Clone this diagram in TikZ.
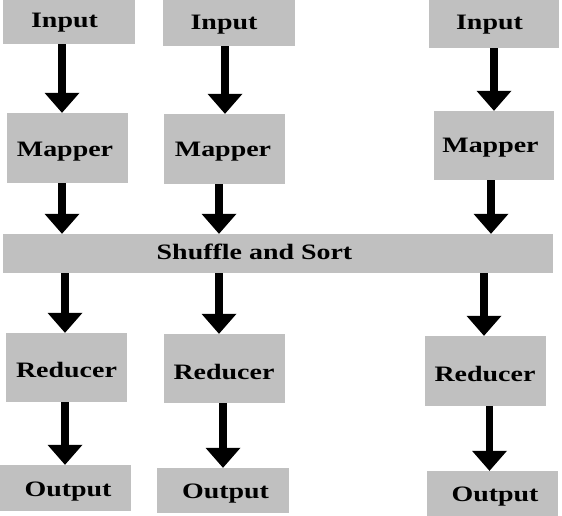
\documentclass[tikz,border=0pt]{standalone}
\usepackage{fontspec}
\setmainfont{Liberation Serif}
\usetikzlibrary{arrows.meta}
\newcommand\stretchtxt[1]{\scalebox{1.27}[1]{#1}}
\begin{document}
\begin{tikzpicture}[x=1pt,y=-1pt,
  box/.style={fill=boxgray, draw=none, inner sep=0pt, rectangle},
  lbl/.style={inner sep=0pt, text height=14.6pt, text depth=0pt,
              font=\fontsize{22}{22}\selectfont\bfseries},
  arr/.style={draw=black, line width=7.5pt,
              -{Triangle[width=35pt,length=20pt,line width=0pt]}}]
\definecolor{boxgray}{RGB}{192,192,192}
\useasboundingbox (0,0) rectangle (562,516);
% boxes
\node[box,minimum width=132pt,minimum height=44pt] (in1) at (69,22) {};
\node[box,minimum width=121pt,minimum height=70pt] (map1) at (67.5,148) {};
\node[box,minimum width=132pt,minimum height=46pt] (in2) at (229,23) {};
\node[box,minimum width=121pt,minimum height=70pt] (map2) at (224.5,149) {};
\node[box,minimum width=130pt,minimum height=48pt] (in3) at (494,24) {};
\node[box,minimum width=120pt,minimum height=69pt] (map3) at (494,145.5) {};
\node[box,minimum width=550pt,minimum height=39pt] (shuf) at (278,253.5) {};
\node[box,minimum width=121pt,minimum height=69pt] (red1) at (66.5,367.5) {};
\node[box,minimum width=121pt,minimum height=69pt] (red2) at (224.5,368.5) {};
\node[box,minimum width=121pt,minimum height=70pt] (red3) at (485.5,371) {};
\node[box,minimum width=131pt,minimum height=46pt] (out1) at (65.5,488) {};
\node[box,minimum width=132pt,minimum height=45pt] (out2) at (223,490.5) {};
\node[box,minimum width=131pt,minimum height=45pt] (out3) at (492.5,493.5) {};
% labels
\node[lbl] (in1t) at (64.5,20.7) {\stretchtxt{Input}};
\node[lbl] (map1t) at (65,149) {\stretchtxt{Mapper}};
\node[lbl] (in2t) at (224,22) {\stretchtxt{Input}};
\node[lbl] (map2t) at (223,149.5) {\stretchtxt{Mapper}};
\node[lbl] (in3t) at (489.5,22.5) {\stretchtxt{Input}};
\node[lbl] (map3t) at (490.5,145.5) {\stretchtxt{Mapper}};
\node[lbl] (shuft) at (254.5,252.5) {\stretchtxt{Shuffle and Sort}};
\node[lbl] (red1t) at (66.5,370.5) {\stretchtxt{Reducer}};
\node[lbl] (red2t) at (224,372.5) {\stretchtxt{Reducer}};
\node[lbl] (red3t) at (485,374) {\stretchtxt{Reducer}};
\node[lbl] (out1t) at (68,489) {\stretchtxt{Output}};
\node[lbl] (out2t) at (225.5,491) {\stretchtxt{Output}};
\node[lbl] (out3t) at (495,494) {\stretchtxt{Output}};
% arrows
\draw[arr] (in1.south -| 62,0) -- (map1.north -| 62,0);
\draw[arr] (map1.south -| 62,0) -- (shuf.north -| 62,0);
\draw[arr] (shuf.south -| 65,0) -- (red1.north -| 65,0);
\draw[arr] (red1.south -| 65,0) -- (out1.north -| 65,0);
\draw[arr] (in2.south -| 225,0) -- (map2.north -| 225,0);
\draw[arr] (map2.south -| 219,0) -- (shuf.north -| 219,0);
\draw[arr] (shuf.south -| 219,0) -- (red2.north -| 219,0);
\draw[arr] (red2.south -| 223,0) -- (out2.north -| 223,0);
\draw[arr] (in3.south -| 494,0) -- (map3.north -| 494,0);
\draw[arr] (map3.south -| 491,0) -- (shuf.north -| 491,0);
\draw[arr] (shuf.south -| 484,0) -- (red3.north -| 484,0);
\draw[arr] (red3.south -| 489.5,0) -- (out3.north -| 489.5,0);
\end{tikzpicture}
\end{document}
